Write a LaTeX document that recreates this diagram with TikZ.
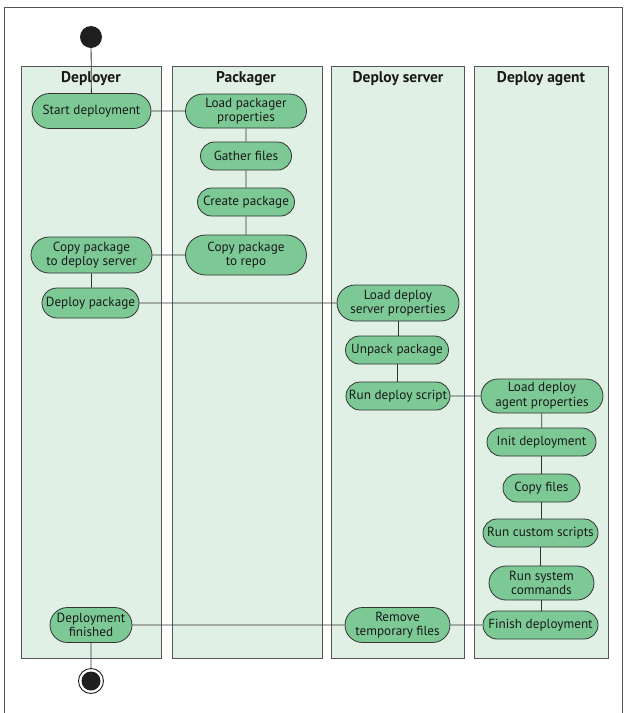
\documentclass[tikz,border=0pt]{standalone}
\usepackage{fontspec}
\setmainfont{PT Sans}
\usetikzlibrary{shapes.misc}
\definecolor{lanefill}{HTML}{E1F0E5}
\definecolor{nodefill}{HTML}{7DC996}
\definecolor{edgegray}{HTML}{333333}
\definecolor{framegray}{HTML}{555555}
\tikzset{
  lane/.style={draw=framegray, fill=lanefill, line width=0.9pt},
  lanetitle/.style={font=\fontsize{15.5}{17}\selectfont\bfseries, text=black!90},
  act/.style={rounded rectangle, draw=edgegray, fill=nodefill, line width=0.8pt,
    font=\fontsize{13.2}{14.5}\selectfont, text=black!90, align=center,
    inner xsep=1pt, inner ysep=0.5pt, minimum height=28pt},
  conn/.style={draw=edgegray, line width=0.8pt},
}
\begin{document}
\begin{tikzpicture}[x=1pt,y=-1pt]
\useasboundingbox (0,0) rectangle (625,713);
% frame (open at bottom)
\draw[framegray, line width=1.3pt] (4.5,713) -- (4.5,7.5) -- (622.5,7.5) -- (622.5,713);
% lanes
\draw[lane] (21,66) rectangle (161,658);
\draw[lane] (172,66) rectangle (322,658);
\draw[lane] (331,66) rectangle (464,658);
\draw[lane] (474,66) rectangle (608,658);
\node[lanetitle] (t1) at (91,79) {Deployer};
\node[lanetitle] (t2) at (246,79) {Packager};
\node[lanetitle] (t3) at (398,79) {Deploy server};
\node[lanetitle] (t4) at (541,79) {Deploy agent};
% start / end
\node[circle, fill=black!88, minimum size=22pt, inner sep=0pt] (start) at (91,37) {};
\node[circle, draw=black!88, line width=0.9pt, fill=white, minimum size=25pt, inner sep=0pt] (endo) at (91,681) {};
\node[circle, fill=black!88, minimum size=19pt, inner sep=0pt] (endi) at (91,681) {};
% activities
\node[act, minimum width=121pt, minimum height=35pt] (sd) at (91.5,111) {Start deployment};
\node[act, minimum width=123pt, minimum height=34pt] (lpp) at (246,111) {Load packager\\properties};
\node[act, minimum width=93pt] (gf) at (246,156) {Gather files};
\node[act, minimum width=99pt] (cp) at (246,202) {Create package};
\node[act, minimum width=123pt, minimum height=40pt] (cpr) at (246,255) {Copy package\\to repo};
\node[act, minimum width=123pt, minimum height=36pt] (cpds) at (91.5,255) {Copy package\\to deploy server};
\node[act, minimum width=99pt, minimum height=30pt] (dp) at (90.5,303) {Deploy package};
\node[act, minimum width=124pt, minimum height=36pt] (ldsp) at (398,303) {Load deploy\\server properties};
\node[act, minimum width=105pt] (up) at (397,350) {Unpack package};
\node[act, minimum width=106pt] (rds) at (398,396) {Run deploy script};
\node[act, minimum width=124pt, minimum height=34pt] (ldap) at (542,396) {Load deploy\\agent properties};
\node[act, minimum width=111pt] (id) at (541.5,442) {Init deployment};
\node[act, minimum width=79pt] (cf) at (541.5,488) {Copy files};
\node[act, minimum width=117pt] (rcs) at (540.5,533) {Run custom scripts};
\node[act, minimum width=107pt, minimum height=34pt] (rsc) at (541.5,583) {Run system\\commands};
\node[act, minimum width=117pt] (fd) at (540.5,625) {Finish deployment};
\node[act, minimum width=107pt, minimum height=35pt] (rtf) at (397.5,625) {Remove\\temporary files};
\node[act, minimum width=84pt, minimum height=35pt] (df) at (91,625) {Deployment\\finished};
% connectors
\draw[conn] (start) -- (sd);
\draw[conn] (sd) -- (lpp);
\draw[conn] (lpp) -- (gf);
\draw[conn] (gf) -- (cp);
\draw[conn] (cp) -- (cpr);
\draw[conn] (cpr) -- (cpds);
\draw[conn] (cpds) -- (cpds|-dp.north);
\draw[conn] (dp) -- (ldsp);
\draw[conn] (ldsp.south) -- (ldsp.south|-up.north);
\draw[conn] (up.south) -- (up.south|-rds.north);
\draw[conn] (rds) -- (ldap);
\draw[conn] (ldap) -- (id);
\draw[conn] (id.south) -- (id.south|-cf.north);
\draw[conn] (cf.south) -- (cf.south|-rcs.north);
\draw[conn] (rcs.south) -- (rcs.south|-rsc.north);
\draw[conn] (rsc.south) -- (rsc.south|-fd.north);
\draw[conn] (fd) -- (rtf);
\draw[conn] (rtf) -- (df);
\draw[conn] (df) -- (endo);
\end{tikzpicture}
\end{document}
